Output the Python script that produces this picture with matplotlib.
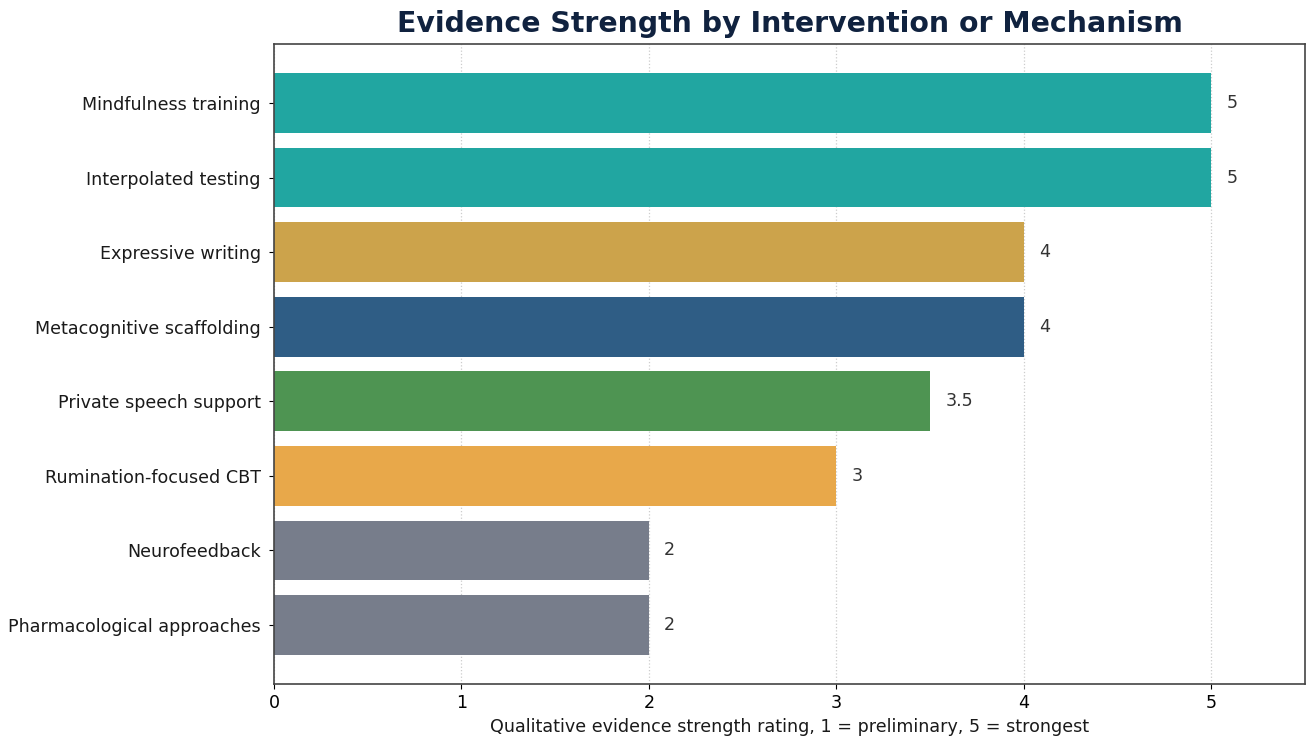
import matplotlib
matplotlib.use("Agg")
import matplotlib.pyplot as plt

plt.rcParams["font.family"] = ["DejaVu Sans"]

# Interventions, top to bottom
interventions = [
    "Mindfulness training",
    "Interpolated testing",
    "Expressive writing",
    "Metacognitive scaffolding",
    "Private speech support",
    "Rumination-focused CBT",
    "Neurofeedback",
    "Pharmacological approaches",
]
strength = [5, 5, 4, 4, 3.5, 3, 2, 2]
bar_colors = [
    "#21a6a1", "#21a6a1", "#cca34b", "#2f5d85",
    "#4e9452", "#e8a84a", "#777d8b", "#777d8b",
]
xticks = [0, 1, 2, 3, 4, 5]


def fmt_value(v):
    return f"{v:g}"


fig = plt.figure(figsize=(13.07, 7.4), dpi=100)
ax = fig.add_axes([0.2096, 0.0757, 0.789, 0.8648])

ypos = list(range(len(interventions)))
ax.barh(ypos, strength, height=0.8, color=bar_colors, zorder=2)
ax.set_yticks(ypos)
ax.set_yticklabels(interventions, fontsize=12.6, color="#1a1a1a")
ax.invert_yaxis()

for y, v in zip(ypos, strength):
    ax.text(v + 0.08, y, fmt_value(v), va="center", ha="left",
            fontsize=12.6, color="#333333")

ax.set_xlim(0, 5.5)
ax.set_xticks(xticks)
ax.tick_params(axis="x", labelsize=12.6, pad=4)
ax.tick_params(axis="y", pad=6)
ax.grid(axis="x", linestyle=":", color="#cccccc", linewidth=0.9, zorder=0)
ax.set_axisbelow(True)
for s in ax.spines.values():
    s.set_color("#444444")
    s.set_linewidth(1.2)

ax.set_xlabel("Qualitative evidence strength rating, 1 = preliminary, 5 = strongest",
              fontsize=12.6, color="#1a1a1a", labelpad=4)
ax.set_title("Evidence Strength by Intervention or Mechanism",
             fontsize=20.4, fontweight="bold", color="#10223f", pad=9)

fig.savefig("out.png", dpi=100)
